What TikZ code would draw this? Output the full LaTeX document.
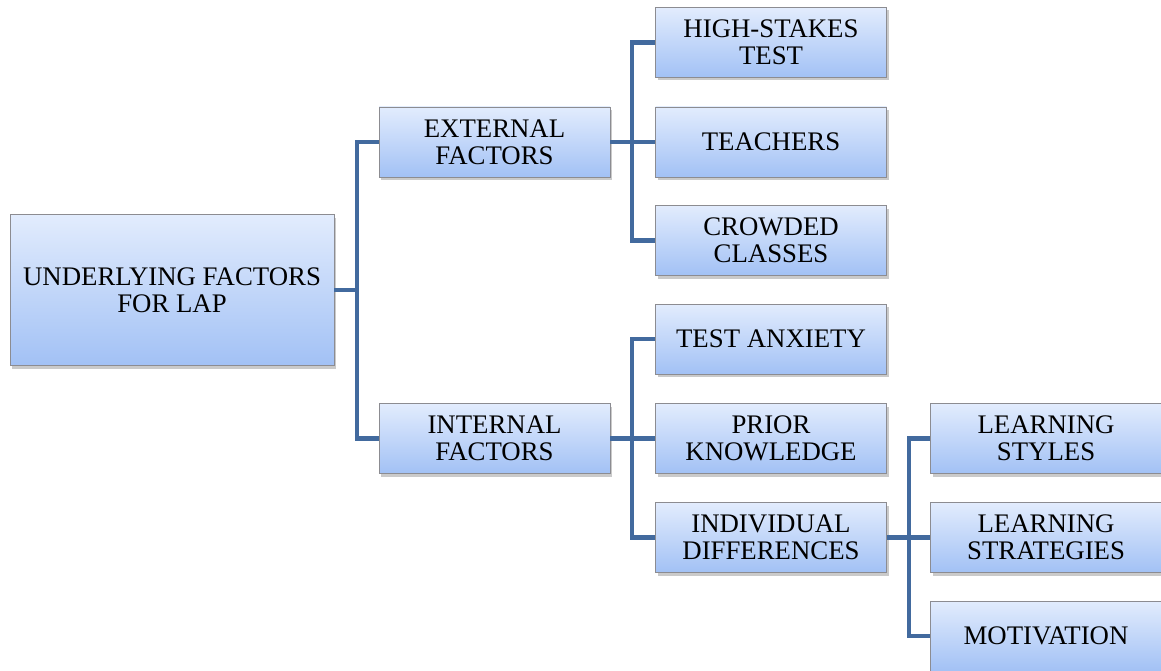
\documentclass[tikz,border=0pt]{standalone}
\usepackage{fontspec}
\setmainfont{Liberation Serif}
\usetikzlibrary{shadows}
\definecolor{boxtop}{RGB}{226,236,253}
\definecolor{boxbot}{RGB}{162,193,245}
\definecolor{boxline}{RGB}{140,140,145}
\definecolor{linkcol}{RGB}{66,106,158}
\begin{document}
\begin{tikzpicture}[x=1pt,y=-1pt,
  box/.style={draw=boxline, line width=0.8pt, top color=boxtop, bottom color=boxbot,
    minimum width=231pt, minimum height=70pt, inner sep=0pt, align=center,
    font=\fontsize{26.8}{27}\selectfont,
    drop shadow={shadow xshift=2pt, shadow yshift=-3pt, opacity=0.35, fill=black!60}},
  rootbox/.style={box, minimum width=324pt, minimum height=151pt},
  conn/.style={draw=linkcol, line width=4.5pt, line join=miter}]
\useasboundingbox (0,0) rectangle (1161,671);

% first level
\node[rootbox] (root) at (172,290) {UNDERLYING FACTORS\\FOR LAP};

% second level
\node[box] (ext) at (494.5,142) {EXTERNAL\\FACTORS};
\node[box] (int) at (494.5,438.5) {INTERNAL\\FACTORS};

% third level
\node[box] (hst) at (771,42.5) {HIGH-STAKES\\TEST};
\node[box] (tea) at (771,142) {TEACHERS};
\node[box] (cro) at (771,240.5) {CROWDED\\CLASSES};
\node[box] (anx) at (771,339) {TEST ANXIETY};
\node[box] (pri) at (771,438.5) {PRIOR\\KNOWLEDGE};
\node[box] (ind) at (771,537.5) {INDIVIDUAL\\DIFFERENCES};

% fourth level
\node[box] (sty) at (1046,438.5) {LEARNING\\STYLES};
\node[box] (str) at (1046,537.5) {LEARNING\\STRATEGIES};
\node[box] (mot) at (1046,636) {MOTIVATION};

% junction columns
\coordinate (j1) at (357,0);
\coordinate (j2) at (632,0);
\coordinate (j3) at (909,0);

% connectors
\draw[conn] (root.east) -- (j1 |- root.east);
\draw[conn] (ext.west) -- (j1 |- ext.west) -- (j1 |- int.west) -- (int.west);

\draw[conn] (ext.east) -- (j2 |- ext.east);
\draw[conn] (hst.west) -- (j2 |- hst.west) -- (j2 |- cro.west) -- (cro.west);
\draw[conn] (j2 |- tea.west) -- (tea.west);

\draw[conn] (int.east) -- (j2 |- int.east);
\draw[conn] (anx.west) -- (j2 |- anx.west) -- (j2 |- ind.west) -- (ind.west);
\draw[conn] (j2 |- pri.west) -- (pri.west);

\draw[conn] (ind.east) -- (j3 |- ind.east);
\draw[conn] (sty.west) -- (j3 |- sty.west) -- (j3 |- mot.west) -- (mot.west);
\draw[conn] (j3 |- str.west) -- (str.west);
\end{tikzpicture}
\end{document}
